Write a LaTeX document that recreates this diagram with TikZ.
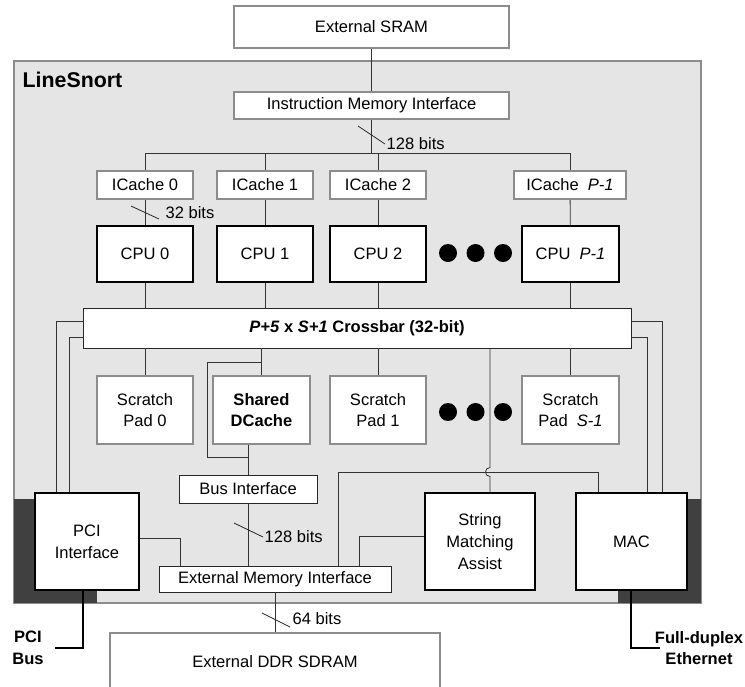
\documentclass[tikz,border=0pt]{standalone}
\usepackage{fontspec}
\setmainfont{Liberation Sans}
\usetikzlibrary{positioning,calc}

\begin{document}
\begin{tikzpicture}[
		x=0.75pt, y=-0.75pt,
		font=\fontsize{12.4}{16.3}\selectfont,
		graybox/.style={draw=black!45, line width=1.3pt, fill=white, inner sep=0pt, align=center},
		heavybox/.style={draw=black, line width=1.4pt, fill=white, inner sep=0pt, align=center},
		thinbox/.style={draw=black!85, line width=0.7pt, fill=white, inner sep=0pt, align=center},
		wire/.style={draw=black!80, line width=0.6pt},
		tick/.style={draw=black!85, line width=0.6pt},
		extbus/.style={draw=black, line width=2.2pt},
		blob/.style={circle, fill=black, inner sep=0pt, minimum size=13.5pt}]
		\useasboundingbox (0,0) rectangle (745,686);
		
		% Chip outline
		\draw[draw=black!45, line width=1pt, fill=black!10] (14,61) rectangle (701,603);
		\fill[black!75] (14,499) rectangle (97,603);
		\fill[black!75] (618,499) rectangle (701,603);
		\node[anchor=west, font=\fontsize{16}{18}\selectfont\bfseries] (chip) at (18,80) {LineSnort};
		
		% Instruction side
		\node[graybox, minimum width=206.25pt, minimum height=31.5pt] (sram) at (371.5,27) {External SRAM};
		\node[graybox, minimum width=206.25pt, minimum height=20.25pt] (imi) at (371.5,105.5) {Instruction Memory Interface};
		\node[graybox, minimum width=72pt, minimum height=21pt] (ic0) at (145,185) {ICache 0};
		\node[graybox, minimum width=72pt, minimum height=21pt] (ic1) at (265,185) {ICache 1};
		\node[graybox, minimum width=72pt, minimum height=21pt] (ic2) at (378,185) {ICache 2};
		\node[graybox, minimum width=84pt, minimum height=21pt] (icp) at (570,185) {ICache\ \ \textit{P-1}};
		
		% CPUs
		\node[heavybox, minimum width=72pt, minimum height=42pt] (cpu0) at (145,254) {CPU 0};
		\node[heavybox, minimum width=72pt, minimum height=42pt] (cpu1) at (265,254) {CPU 1};
		\node[heavybox, minimum width=72pt, minimum height=42pt] (cpu2) at (378,254) {CPU 2};
		\node[heavybox, minimum width=72.75pt, minimum height=42pt] (cpup) at (570.5,254) {CPU\ \ \textit{P-1}};
		\foreach \x/\n in {448/a,475.5/b,503/c}
			\node[blob] (cdot\n) at (\x,253) {};
		
		% Crossbar
		\node[thinbox, minimum width=411pt, minimum height=30pt, font=\fontsize{12.4}{16.3}\selectfont\bfseries] (xbar) at (357,328) {\textit{P+5} x \textit{S+1} Crossbar (32-bit)};
		
		% Scratch pads and data cache
		\node[graybox, minimum width=72pt, minimum height=51pt] (sp0) at (145,410) {Scratch\\Pad 0};
		\node[graybox, minimum width=72.75pt, minimum height=51pt, font=\fontsize{12.4}{16.3}\selectfont\bfseries] (dc) at (261.5,410) {Shared\\DCache};
		\node[graybox, minimum width=72pt, minimum height=51pt] (sp1) at (378,410) {Scratch\\Pad 1};
		\node[graybox, minimum width=72.75pt, minimum height=51pt] (sps) at (570.5,410) {Scratch\\Pad\ \ \textit{S-1}};
		\foreach \x/\n in {448/a,475.5/b,503/c}
			\node[blob] (sdot\n) at (\x,412) {};
		
		% Lower blocks
		\node[thinbox, minimum width=103.5pt, minimum height=21pt] (busif) at (248,489) {Bus Interface};
		\node[thinbox, minimum width=174pt, minimum height=19.5pt] (emi) at (275,579) {External Memory Interface};
		\node[heavybox, minimum width=78pt, minimum height=72.75pt] (pci) at (87,541.5) {PCI\\Interface};
		\node[heavybox, minimum width=82.5pt, minimum height=72.75pt] (sma) at (480,541.5) {String\\Matching\\Assist};
		\node[heavybox, minimum width=83.25pt, minimum height=72.75pt] (mac) at (631.5,541.5) {MAC};
		\node[graybox, minimum width=247.5pt, minimum height=43.5pt] (ddr) at (275,662) {External DDR SDRAM};
		
		% Instruction bus
		\coordinate (ibus) at (371.5,153);
		\draw[wire] (sram) -- (imi);
		\draw[wire] (imi) -- (ibus);
		\draw[wire] (ic0 |- ibus) -- (icp |- ibus);
		\foreach \i in {0,1,2,p} {
			\draw[wire] (ic\i |- ibus) -- (ic\i);
			\draw[wire] (ic\i) -- (cpu\i);
			\draw[wire] (cpu\i) -- (cpu\i |- xbar.north);
		}
		\draw[tick] (358,126) -- (385,144) node[anchor=west, inner sep=1pt] (w128a) {128 bits};
		\draw[tick] (131,206) -- (159,219);
		\node[anchor=west, inner sep=1pt] (w32) at (164,213) {32 bits};
		
		% Crossbar to memories
		\foreach \n in {sp0,dc,sp1,sps}
			\draw[wire] (xbar.south -| \n) -- (\n);
		\coordinate (dctap) at (261.5,362);
		\draw[wire] (dctap) -| (207,457) -- (busif |- 207,457);
		\draw[wire] (dc.south -| busif) -- (busif);
		\draw[wire] (busif) -- (busif |- emi.north);
		\draw[tick] (234,523) -- (263,537) node[anchor=west, inner sep=1pt] (w128b) {128 bits};
		\draw[wire] (emi) -- (ddr);
		\draw[tick] (262,613) -- (290,627);
		\node[anchor=west, inner sep=1pt] (w64) at (291,619) {64 bits};
		
		% Side links of the crossbar
		\draw[wire] (xbar.west |- 0,321) -| (pci.north -| 56,0);
		\draw[wire] (xbar.west |- 0,337) -| (pci.north -| 69,0);
		\draw[wire] (xbar.east |- 0,321) -| (mac.north -| 662,0);
		\draw[wire] (xbar.east |- 0,337) -| (mac.north -| 647,0);
		\draw[wire] (xbar.south -| 490,0) -- (490,467.5) .. controls (484,467.5) and (484,476.5) .. (490,476.5) -- (sma.north -| 490,0);
		
		% Memory interface links
		\draw[wire] (pci.east |- 0,538) -| (emi.north -| 180,0);
		\draw[wire] (emi.north -| 338,0) |- (598,472) -- (mac.north -| 598,0);
		\draw[wire] (emi.north -| 359,0) |- (sma.west |- 0,536);
		
		% External buses
		\draw[extbus] (pci.south -| 83,0) |- (55,648);
		\node[font=\fontsize{12.4}{16.3}\selectfont\bfseries, align=center] (pcibus) at (28,648) {PCI\\Bus};
		\draw[extbus] (mac.south -| 631,0) |- (660,648);
		\node[font=\fontsize{12.4}{16.3}\selectfont\bfseries, align=center] (eth) at (699,648) {Full-duplex\\Ethernet};
\end{tikzpicture}
\end{document}
